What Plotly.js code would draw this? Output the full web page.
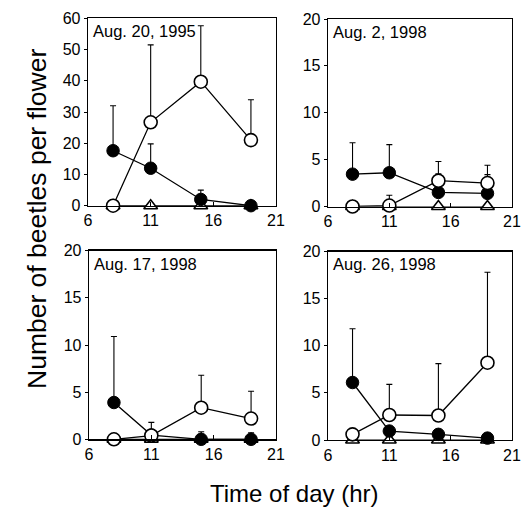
<!DOCTYPE html>
<html>
<head>
<meta charset="utf-8">
<script src="https://cdn.plot.ly/plotly-3.0.1.min.js"></script>
<style>html,body{margin:0;padding:0;background:#fff;}#chart{width:522px;height:514px;}</style>
</head>
<body>
<div id="chart"></div>
<script>
// Sampling times (hr)
const hours = [8, 11, 15, 19];

// Panel titles
const panelDates = ["Aug. 20, 1995", "Aug. 2, 1998", "Aug. 17, 1998", "Aug. 26, 1998"];

// Filled circles (means and upper error)
const filledA = [17.6, 12, 2, 0];       const filledErrA = [14.4, 7.8, 3, 1.5];
const filledB = [3.45, 3.6, 1.5, 1.4];  const filledErrB = [3.35, 3.0, 2.0, 2.0];
const filledC = [3.9, 0.45, 0, 0];      const filledErrC = [7.0, 1.35, 0.8, 0.7];
const filledD = [6.1, 0.95, 0.6, 0.2];  const filledErrD = [5.7, 0, 0, 0];

// Open circles (means and upper error)
const openA = [0, 26.7, 39.7, 21];      const openErrA = [0, 24.8, 17.9, 12.9];
const openB = [0, 0.1, 2.75, 2.5];      const openErrB = [0, 1.1, 2.05, 1.9];
const openC = [0, 0.4, 3.35, 2.2];      const openErrC = [0, 0, 3.45, 2.9];
const openD = [0.6, 2.65, 2.6, 8.2];    const openErrD = [0, 3.25, 5.5, 9.6];

// Open triangles
const triA = [0, 0, 0, 0];
const triB = [0, 0, 0, 0];
const triC = [0, 0, 0, 0];
const triD = [0, 0, 0, 0];

// Y axis tick values
const yTicksA = [0, 10, 20, 30, 40, 50, 60];
const yTicksB = [0, 5, 10, 15, 20];
const xTicks = [6, 11, 16, 21];

const W = 522, H = 514;
const boxes = [
  {x0: 88, x1: 276, y0: 18.3, y1: 205.7, ymax: 60, ticks: yTicksA},
  {x0: 328, x1: 512, y0: 19, y1: 206.5, ymax: 20, ticks: yTicksB},
  {x0: 89, x1: 276, y0: 250.7, y1: 439.3, ymax: 20, ticks: yTicksB},
  {x0: 328, x1: 512, y0: 251.5, y1: 440, ymax: 20, ticks: yTicksB}
];
const filled = [filledA, filledB, filledC, filledD];
const filledErr = [filledErrA, filledErrB, filledErrC, filledErrD];
const opens = [openA, openB, openC, openD];
const openErr = [openErrA, openErrB, openErrC, openErrD];
const tris = [triA, triB, triC, triD];

const FONT = 'Liberation Sans, Arial, sans-serif';
const traces = [];
const layout = {
  width: W, height: H,
  margin: {l: 0, r: 0, t: 0, b: 0},
  paper_bgcolor: '#fff', plot_bgcolor: '#fff',
  showlegend: false,
  font: {family: FONT, color: '#000'},
  annotations: [],
};
const tickFont = {family: FONT, size: 16, color: '#000'};

boxes.forEach((b, i) => {
  const n = i === 0 ? '' : String(i + 1);
  const xa = 'x' + n, ya = 'y' + n;
  layout['xaxis' + n] = {
    domain: [b.x0 / W, b.x1 / W], range: [6, 21], anchor: ya,
    tickvals: xTicks, ticks: 'inside', ticklen: 4, tickcolor: '#000',
    showline: true, linecolor: '#000', linewidth: 1.3, mirror: true,
    showgrid: false, zeroline: false, tickfont: tickFont, fixedrange: true,
    ticklabeloverflow: 'allow'
  };
  layout['yaxis' + n] = {
    domain: [1 - b.y1 / H, 1 - b.y0 / H], range: [0, b.ymax], anchor: xa,
    tickvals: b.ticks, ticks: 'outside', ticklen: 3, tickcolor: '#000',
    showline: true, linecolor: '#000', linewidth: 1.3, mirror: true,
    showgrid: false, zeroline: false, tickfont: tickFont, fixedrange: true,
    ticklabeloverflow: 'allow'
  };
  layout.annotations.push({
    xref: xa + ' domain', yref: ya + ' domain', x: 0.015, y: 0.99,
    xanchor: 'left', yanchor: 'top', showarrow: false, text: panelDates[i],
    font: {family: FONT, size: 16.5, color: '#000'}
  });
  traces.push({
    x: hours, y: tris[i], xaxis: xa, yaxis: ya, type: 'scatter', mode: 'lines+markers',
    cliponaxis: false,
    line: {color: '#000', width: 1.2},
    marker: {symbol: 'triangle-up', size: 12, color: '#fff', line: {color: '#000', width: 1.6}}
  });
  traces.push({
    x: hours, y: filled[i], xaxis: xa, yaxis: ya, type: 'scatter', mode: 'lines+markers',
    cliponaxis: false,
    line: {color: '#000', width: 1.3},
    marker: {symbol: 'circle', size: 12.5, color: '#000', line: {color: '#000', width: 1}},
    error_y: {type: 'data', symmetric: false, array: filledErr[i], arrayminus: [0,0,0,0],
      color: '#000', thickness: 1.1, width: 3}
  });
  traces.push({
    x: hours, y: opens[i], xaxis: xa, yaxis: ya, type: 'scatter', mode: 'lines+markers',
    cliponaxis: false,
    line: {color: '#000', width: 1.3},
    marker: {symbol: 'circle', size: 13, color: '#fff', line: {color: '#000', width: 1.6}},
    error_y: {type: 'data', symmetric: false, array: openErr[i], arrayminus: [0,0,0,0],
      color: '#000', thickness: 1.1, width: 3}
  });
});

layout.annotations.push({
  xref: 'paper', yref: 'paper', x: 294 / W, y: 1 - 493 / H, xanchor: 'center', yanchor: 'middle',
  showarrow: false, text: 'Time of day (hr)',
  font: {family: FONT, size: 24, color: '#000'}
});
layout.annotations.push({
  xref: 'paper', yref: 'paper', x: 37 / W, y: 1 - 219 / H, xanchor: 'center', yanchor: 'middle',
  showarrow: false, textangle: -90, text: 'Number of beetles per flower',
  font: {family: FONT, size: 26.5, color: '#000'}
});

Plotly.newPlot('chart', traces, layout, {staticPlot: true, displayModeBar: false});
</script>
</body>
</html>
